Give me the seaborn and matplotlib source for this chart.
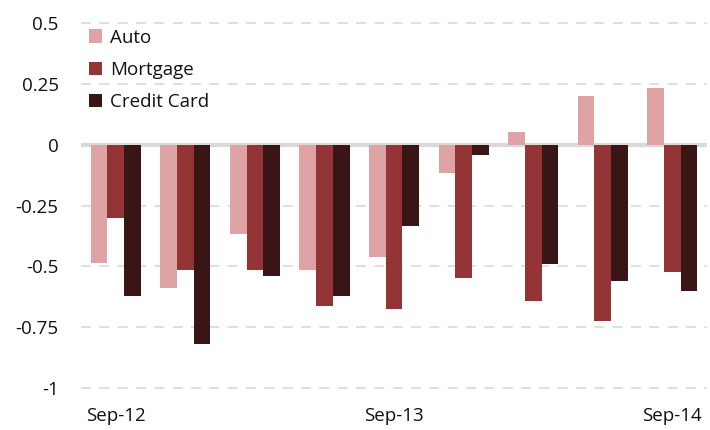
import numpy as np
import pandas as pd
import seaborn as sns
import matplotlib.pyplot as plt

# Data (quarterly, Sep-12 .. Sep-14)
quarters = ["Sep-12", "Dec-12", "Mar-13", "Jun-13", "Sep-13",
            "Dec-13", "Mar-14", "Jun-14", "Sep-14"]
auto = [-0.485, -0.59, -0.368, -0.516, -0.46, -0.114, 0.052, 0.20, 0.233]
mortgage = [-0.30, -0.516, -0.516, -0.665, -0.674, -0.55, -0.642, -0.724, -0.525]
credit_card = [-0.622, -0.82, -0.54, -0.622, -0.334, -0.04, -0.492, -0.559, -0.60]
series_names = ["Auto", "Mortgage", "Credit Card"]
colors = ["#DEA3A5", "#933537", "#391516"]
yticks = [0.5, 0.25, 0, -0.25, -0.5, -0.75, -1]
ytick_labels = ["0.5", "0.25", "0", "-0.25", "-0.5", "-0.75", "-1"]
xtick_labels = {0: "Sep-12", 4: "Sep-13", 8: "Sep-14"}


def build_frame():
    """Long table for seaborn."""
    rows = []
    for name, vals in zip(series_names, [auto, mortgage, credit_card]):
        for q, v in zip(quarters, vals):
            rows.append({"quarter": q, "series": name, "value": v})
    return pd.DataFrame(rows)


def main():
    sns.set_style("white")
    plt.rcParams['font.family'] = ['Open Sans', 'DejaVu Sans']

    df = build_frame()
    fig = plt.figure(figsize=(7.1, 4.3), dpi=100)
    ax = fig.add_axes([0.114, 0.0984, 0.882, 0.847])

    sns.barplot(data=df, x="quarter", y="value", hue="series",
                order=quarters, hue_order=series_names,
                palette=colors, width=0.72, saturation=1,
                errorbar=None, linewidth=0, ax=ax)

    # dashed gridlines and the heavy zero line
    for y in yticks:
        if y == 0:
            continue
        ax.axhline(y, color="#D9D9D9", lw=1.2, ls=(0, (6, 5)), zorder=0,
                   clip_on=False)
    ax.axhline(0, color="#D9D9D9", lw=3, zorder=0.5)

    ax.set_xlim(-0.5, 8.5)
    ax.set_ylim(-1, 0.5)
    ax.set_yticks(yticks)
    ax.set_yticklabels(ytick_labels, fontsize=13.5, color="#111111")
    ax.set_xticks(list(xtick_labels.keys()))
    ax.set_xticklabels(list(xtick_labels.values()), fontsize=13.5, color="#111111")
    ax.tick_params(axis="y", length=0, pad=16)
    ax.tick_params(axis="x", length=0, pad=14)
    ax.set_xlabel("")
    ax.set_ylabel("")
    for s in ax.spines.values():
        s.set_visible(False)

    handles, labels = ax.get_legend_handles_labels()
    leg = ax.legend(handles, labels, loc="upper left", bbox_to_anchor=(-0.008, 1.022),
                    frameon=False, fontsize=13.5, handlelength=0.7, handleheight=0.7,
                    handletextpad=0.4, labelspacing=0.75, borderaxespad=0.3)
    for t in leg.get_texts():
        t.set_color("#111111")

    fig.savefig("out.png", dpi=100)
    plt.close(fig)


if __name__ == "__main__":
    main()
